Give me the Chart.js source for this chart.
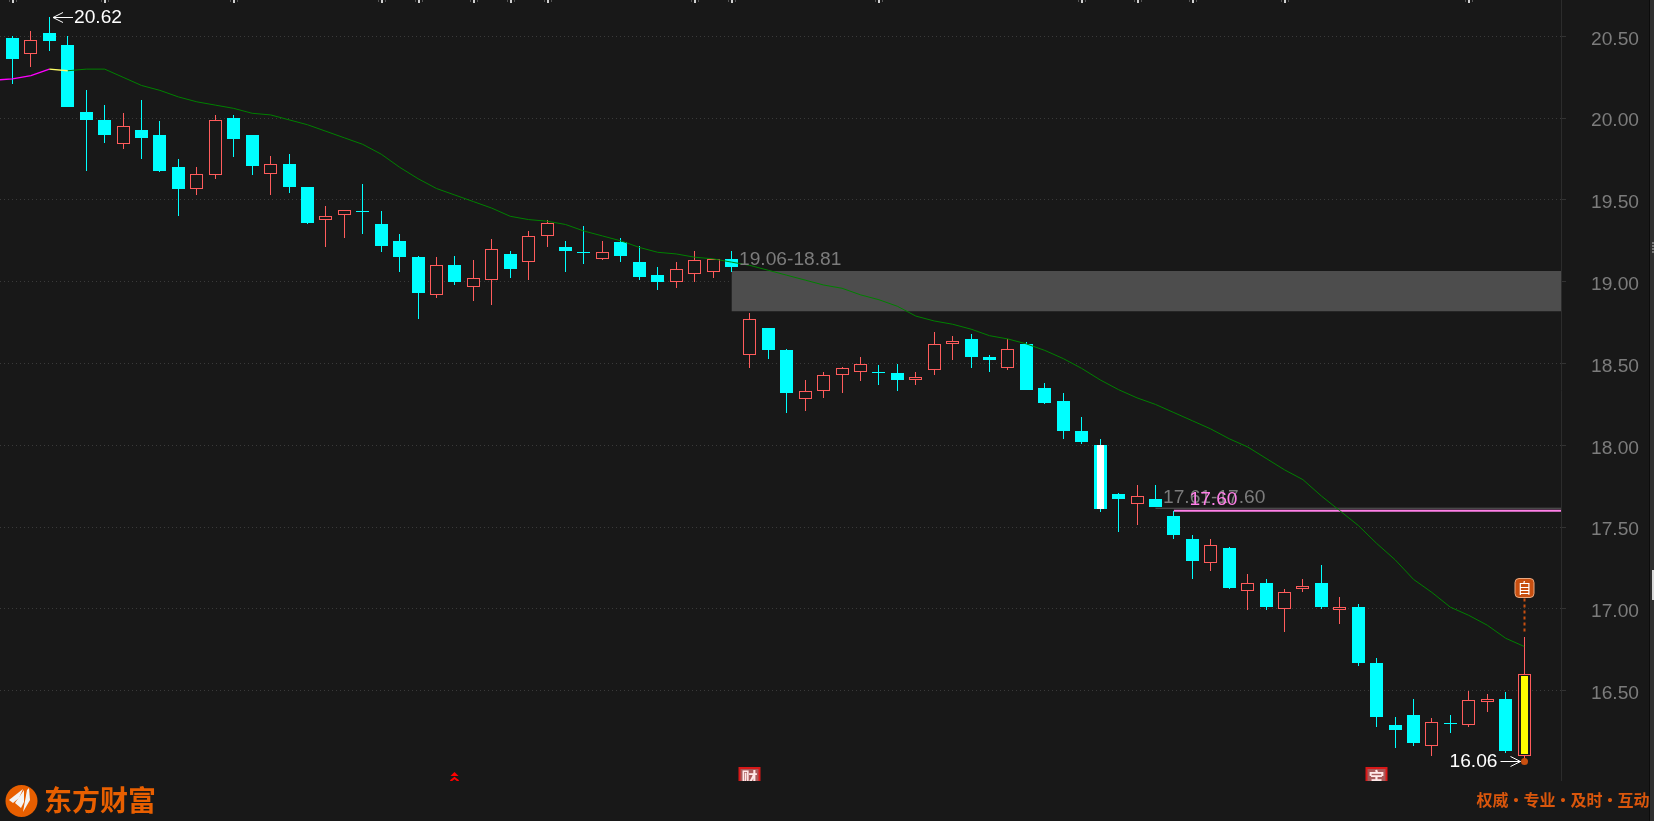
<!DOCTYPE html>
<html lang="zh">
<head>
<meta charset="utf-8">
<title>K线图</title>
<style>html,body{margin:0;padding:0;background:#181818;overflow:hidden}canvas{display:block}</style>
<script src="https://cdn.jsdelivr.net/npm/chart.js@4"></script>
</head>
<body>
<canvas id="c" width="1654" height="821" style="width:1654px;height:821px"></canvas>
<script>
const opens  = [20.49,20.39,20.52,20.45,20.04,19.99,19.84,19.93,19.90,19.70,19.57,19.65,20.00,19.90,19.66,19.72,19.58,19.38,19.41,19.43,19.35,19.25,19.15,18.92,19.10,18.97,19.01,19.17,19.12,19.28,19.21,19.18,19.14,19.24,19.12,19.04,19.00,19.05,19.06,19.14,18.55,18.72,18.58,18.28,18.33,18.43,18.45,18.45,18.44,18.40,18.46,18.62,18.65,18.54,18.47,18.62,18.35,18.27,18.09,18.00,17.70,17.64,17.67,17.57,17.43,17.28,17.37,17.11,17.16,17.00,17.12,17.16,16.99,17.01,16.67,16.29,16.35,16.16,16.30,16.29,16.43,16.45,16.10];
const highs  = [20.50,20.53,20.62,20.50,20.17,20.08,20.03,20.11,19.98,19.75,19.70,20.02,20.02,19.90,19.77,19.78,19.58,19.46,19.44,19.60,19.43,19.29,19.16,19.15,19.16,19.13,19.26,19.19,19.31,19.38,19.25,19.34,19.25,19.27,19.22,19.09,19.12,19.19,19.14,19.19,18.81,18.72,18.59,18.40,18.45,18.48,18.54,18.49,18.50,18.45,18.69,18.67,18.68,18.55,18.65,18.63,18.38,18.32,18.17,18.04,17.71,17.76,17.76,17.60,17.45,17.43,17.38,17.21,17.18,17.12,17.18,17.27,17.07,17.03,16.70,16.34,16.45,16.33,16.35,16.50,16.48,16.49,16.83];
const lows   = [20.21,20.31,20.41,20.07,19.68,19.85,19.81,19.75,19.67,19.40,19.53,19.63,19.76,19.65,19.53,19.54,19.35,19.21,19.27,19.29,19.18,19.06,18.77,18.90,18.98,18.88,18.86,19.02,19.01,19.21,19.06,19.11,19.13,19.12,19.01,18.95,18.96,19.00,19.02,19.06,18.47,18.53,18.20,18.21,18.29,18.32,18.39,18.37,18.33,18.37,18.43,18.52,18.47,18.45,18.46,18.34,18.25,18.04,18.01,17.59,17.47,17.51,17.62,17.43,17.18,17.23,17.12,16.99,16.99,16.86,17.10,17.00,16.91,16.65,16.28,16.15,16.16,16.10,16.24,16.28,16.37,16.12,16.06];
const closes = [20.36,20.48,20.47,20.07,19.99,19.90,19.95,19.88,19.68,19.57,19.66,19.99,19.87,19.71,19.72,19.58,19.36,19.40,19.44,19.43,19.22,19.15,18.93,19.10,19.00,19.02,19.20,19.08,19.28,19.36,19.19,19.18,19.18,19.16,19.03,19.00,19.08,19.13,19.14,19.09,18.77,18.58,18.32,18.33,18.43,18.47,18.50,18.44,18.40,18.42,18.62,18.64,18.54,18.52,18.59,18.34,18.26,18.09,18.02,17.61,17.67,17.69,17.62,17.45,17.29,17.39,17.13,17.16,17.01,17.10,17.14,17.01,17.01,16.67,16.34,16.26,16.18,16.31,16.30,16.44,16.45,16.13,16.60];
const maValues = [20.24,20.26,20.30,20.29,20.30,20.30,20.25,20.20,20.17,20.13,20.10,20.08,20.06,20.03,20.02,19.99,19.96,19.92,19.88,19.84,19.78,19.70,19.63,19.57,19.53,19.49,19.45,19.40,19.38,19.37,19.35,19.31,19.28,19.25,19.21,19.18,19.17,19.15,19.14,19.12,19.10,19.07,19.04,19.01,18.98,18.96,18.92,18.89,18.85,18.79,18.76,18.74,18.71,18.67,18.65,18.62,18.58,18.53,18.47,18.40,18.34,18.29,18.25,18.20,18.15,18.10,18.04,17.99,17.92,17.85,17.79,17.69,17.60,17.51,17.40,17.30,17.18,17.10,17.01,16.96,16.90,16.82,16.77];
const maLead = 20.235;
const yTickValues = [16.5,17,17.5,18,18.5,19,19.5,20,20.5];
const gapZoneIndex = 39, gapZoneHigh = 19.065, gapZoneLow = 18.82;
const gapZoneLabel = '19.06-18.81';
const gapLineIndex = 62, gapLineValue = 17.615, gapLineLabel = '17.61-17.60';
const pinkLineIndex = 63, pinkLineValue = 17.60, pinkLineLabel = '17.60';
const highlightIndex = [59,82];
const highlightTop = [18.00,16.59];
const highlightBottom = [17.61,16.11];
const highlightColor = ['#ffffff','#ffff00'];
const highLabelIndex = 2, highLabelValue = 20.62, highLabelText = '20.62';
const lowLabelIndex = 82, lowLabelValue = 16.06, lowLabelText = '16.06';
const topMarkIndex = [0,5,12,20,22,25,27,29,37,39,47,58,61,64,69,79];
const eventIndex = [24,40,74];
const eventText = ['','财','宝'];
const selfTagIndex = 82, selfTagText = '自';
const brandText = '东方财富';
const sloganWords = ['权威','专业','及时','互动'];

const BG = '#181818', CYAN = '#00ffff', RED = '#ff5c5c';
const xMin = -0.678, xMax = 84;
const yMin = 15.9534, yMax = 20.7226;
const isUp = i => closes[i] > opens[i];
const idx = opens.map((_, i) => i);

const crispBars = {
  id: 'crispBars',
  afterDatasetsUpdate(chart) {
    const xs = chart.scales.x;
    chart.data.datasets.forEach((ds, d) => {
      if (ds.type === 'line') return;
      const meta = chart.getDatasetMeta(d);
      meta.data.forEach((el, i) => {
        const cx = xs.getPixelForValue(ds.data[i].x);
        el.x = Math.floor(cx) + 0.5;
        let a = Math.round(Math.min(el.y, el.base));
        let b = Math.round(Math.max(el.y, el.base));
        if (b - a < 1) b = a + 1;
        el.y = a; el.base = b;
      });
    });
  }
};

const page = {
  id: 'page',
  beforeDraw(chart) {
    const c = chart.ctx;
    c.save();
    c.fillStyle = BG; c.fillRect(0, 0, 1654, 821);
    c.fillStyle = '#0c0c0c'; c.fillRect(1649, 0, 1, 821);
    c.fillStyle = '#2f2f2f'; c.fillRect(1650, 0, 4, 821);
    c.fillStyle = '#d8d8d8'; c.fillRect(1652, 570, 2, 30);
    c.fillStyle = '#777777';
    for (let y = 242; y < 254; y += 3) c.fillRect(1652, y, 2, 2);
    c.restore();
  },
  afterDraw(chart) {
    const c = chart.ctx, X = chart.scales.x, Y = chart.scales.y;
    const px = i => Math.floor(X.getPixelForValue(i)) + 0.5;
    const font = '19.2px "Liberation Sans"';
    c.save();
    c.textBaseline = 'middle'; c.textAlign = 'left'; c.font = font;

    // top marks
    topMarkIndex.forEach(i => {
      const x = Math.floor(X.getPixelForValue(i));
      c.fillStyle = '#d0d0d0'; c.fillRect(x, 0, 2, 3);
      c.fillStyle = '#555555'; c.fillRect(x - 3, 0, 1, 2); c.fillRect(x + 4, 0, 1, 2);
    });

    // gap labels
    c.fillStyle = '#7c7c7c';
    c.fillText(gapZoneLabel, px(gapZoneIndex) + 7.5, Y.getPixelForValue(gapZoneHigh) - 11.5);
    c.fillText(gapLineLabel, px(gapLineIndex) + 7.5, Y.getPixelForValue(gapLineValue) - 11);
    c.fillStyle = '#ff80e8';
    c.fillText(pinkLineLabel, px(pinkLineIndex) + 16, Y.getPixelForValue(pinkLineValue) - 10.5);

    // high label
    const hx = px(highLabelIndex) + 3.5, hy = Math.round(Y.getPixelForValue(highLabelValue)) + 0.5;
    c.strokeStyle = '#ffffff'; c.lineWidth = 1;
    c.beginPath();
    c.moveTo(hx + 20, hy); c.lineTo(hx, hy);
    c.moveTo(hx + 10, hy - 5); c.lineTo(hx, hy); c.lineTo(hx + 10, hy + 5);
    c.stroke();
    c.fillStyle = '#ffffff';
    c.fillText(highLabelText, hx + 21, hy);

    // low label and dot
    const lx = px(lowLabelIndex), ly = Math.round(Y.getPixelForValue(lowLabelValue)) - 1.5;
    c.beginPath();
    c.moveTo(lx - 24, ly); c.lineTo(lx - 4, ly);
    c.moveTo(lx - 14, ly - 5); c.lineTo(lx - 4, ly); c.lineTo(lx - 14, ly + 5);
    c.stroke();
    c.textAlign = 'right';
    c.fillText(lowLabelText, lx - 27, ly);
    c.fillStyle = '#c84f10';
    c.beginPath(); c.arc(lx, ly, 3.5, 0, Math.PI * 2); c.fill();

    // self tag above last candle
    const tx = px(selfTagIndex), tTop = 578.5;
    c.strokeStyle = '#c84f10'; c.lineWidth = 2; c.setLineDash([3, 3]);
    c.beginPath(); c.moveTo(tx, tTop + 20); c.lineTo(tx, 632); c.stroke();
    c.setLineDash([]);
    c.beginPath(); c.roundRect(tx - 9.5, tTop, 19, 19, 4);
    c.fillStyle = '#c84f10'; c.fill();
    c.strokeStyle = '#e8a880'; c.lineWidth = 1; c.stroke();
    c.fillStyle = '#ffffff'; c.textAlign = 'center';
    c.font = '14px "Noto Sans CJK SC"';
    c.fillText(selfTagText, tx, tTop + 9.5);

    // event markers along the bottom, cut by the panel edge
    eventIndex.forEach((i, k) => {
      const ex = px(i);
      c.save();
      c.beginPath(); c.rect(0, 760, 1561, 21); c.clip();
      if (!eventText[k]) {
        c.strokeStyle = '#ff0000'; c.fillStyle = '#ff0000'; c.lineWidth = 2;
        c.beginPath(); c.moveTo(ex - 4, 776); c.lineTo(ex, 772); c.lineTo(ex + 4, 776); c.closePath(); c.fill();
        c.beginPath(); c.moveTo(ex - 4, 781); c.lineTo(ex, 778); c.lineTo(ex + 4, 781); c.stroke();
      } else {
        c.fillStyle = '#d81818'; c.fillRect(ex - 11, 767, 22, 20);
        c.fillStyle = '#a85a5a'; c.fillRect(ex - 9, 769, 18, 18);
        c.fillStyle = '#ffe8e8'; c.font = 'bold 16px "Noto Sans CJK SC"';
        c.textAlign = 'center'; c.fillText(eventText[k], ex, 777.5);
      }
      c.restore();
    });

    // brand
    const O = '#e85f00';
    c.fillStyle = O;
    c.beginPath(); c.arc(21.5, 801, 16, 0, Math.PI * 2); c.fill();
    c.fillStyle = '#f4f4f4';
    [[[9,800],[23,789],[19,798],[13,803]],[[15,803],[24,790],[24,802],[21,808]],[[23,812],[27,790],[29,788],[30,800]]].forEach(p => {
      c.beginPath(); p.forEach((q, j) => j ? c.lineTo(q[0], q[1]) : c.moveTo(q[0], q[1])); c.closePath(); c.fill();
    });
    c.fillStyle = O; c.textAlign = 'left';
    c.font = 'bold 28px "Noto Sans CJK SC"';
    c.fillText(brandText, 44, 800);

    // slogan: words and separators set on the reference's spacing
    c.fillStyle = '#d9560c'; c.textAlign = 'left';
    c.font = 'bold 16px "Noto Sans CJK SC"';
    sloganWords.forEach((w, k) => {
      const sx = 1476.5 + k * 47;
      c.fillText(w, sx, 800);
      if (k < sloganWords.length - 1) { c.textAlign = 'center'; c.fillText('·', sx + 39.5, 800); c.textAlign = 'left'; }
    });
    c.restore();
  }
};

const barBase = { type: 'bar', grouped: false, inflateAmount: 0, borderSkipped: false };
const chart = new Chart(document.getElementById('c'), {
  type: 'bar',
  data: { datasets: [
    { type: 'line', label: 'MA', order: 0, borderWidth: 1, pointRadius: 0, tension: 0, borderColor: '#008000',
      data: [{ x: xMin, y: maLead }].concat(maValues.map((v, i) => ({ x: i, y: v }))),
      segment: {
        borderColor: s => s.p0.parsed.x < 2 ? '#ff00ff' : s.p0.parsed.x < 3 ? '#ffff66' : '#008000',
        borderWidth: s => s.p0.parsed.x < 3 ? 1.4 : 1
      } },
    { type: 'line', label: 'pink', order: 1, borderWidth: 2, pointRadius: 0, borderColor: '#ff80e8',
      data: [{ x: pinkLineIndex, y: pinkLineValue }, { x: xMax, y: pinkLineValue }] },
    { type: 'line', label: 'gapLine', order: 1, borderWidth: 1, pointRadius: 0, borderColor: '#5a5a5a',
      data: [{ x: gapLineIndex, y: gapLineValue }, { x: xMax, y: gapLineValue }] },
    Object.assign({}, barBase, { label: 'highlight', order: 2, barThickness: 7, borderWidth: 0,
      backgroundColor: highlightColor,
      data: highlightIndex.map((x, k) => ({ x, y: [highlightBottom[k], highlightTop[k]] })) }),
    Object.assign({}, barBase, { label: 'body', order: 3, barThickness: 13,
      backgroundColor: idx.map(i => isUp(i) ? BG : CYAN),
      borderColor: idx.map(i => isUp(i) ? RED : CYAN),
      borderWidth: idx.map(i => isUp(i) ? 1 : 0),
      data: idx.map(i => ({ x: i, y: [opens[i], closes[i]] })) }),
    Object.assign({}, barBase, { label: 'wick', order: 4, barThickness: 1, borderWidth: 0,
      backgroundColor: idx.map(i => isUp(i) ? RED : CYAN),
      data: idx.map(i => ({ x: i, y: [lows[i], highs[i]] })) }),
    { type: 'line', label: 'gapZone', order: 5, borderWidth: 0, pointRadius: 0, borderColor: 'rgba(0,0,0,0)',
      backgroundColor: '#4d4d4d', fill: { value: gapZoneLow },
      data: [{ x: gapZoneIndex, y: gapZoneHigh }, { x: xMax, y: gapZoneHigh }] }
  ] },
  options: {
    responsive: false, animation: false, devicePixelRatio: 1,
    layout: { autoPadding: false, padding: { top: 0, left: 0, right: 0, bottom: 41 } },
    plugins: { legend: { display: false }, tooltip: { enabled: false } },
    events: [],
    scales: {
      x: { type: 'linear', min: xMin, max: xMax, display: false, offset: false },
      y: {
        position: 'right', min: yMin, max: yMax,
        afterBuildTicks: s => { s.ticks = yTickValues.map(v => ({ value: v })); },
        afterFit: s => { s.width = 93; s.paddingTop = 0; s.paddingBottom = 0; },
        grid: { color: '#3a3a3a', lineWidth: 1, drawTicks: true, tickLength: 5, tickColor: '#333333', tickBorderDash: [] },
        border: { display: true, color: '#2c2c2c', width: 1, dash: [1, 3] },
        ticks: { color: '#7c7c7c', padding: 25, labelOffset: 3, font: { family: '"Liberation Sans"', size: 19.2 },
          callback: v => Number(v).toFixed(2), autoSkip: false, maxRotation: 0 }
      }
    }
  },
  plugins: [crispBars, page]
});
</script>
</body>
</html>
